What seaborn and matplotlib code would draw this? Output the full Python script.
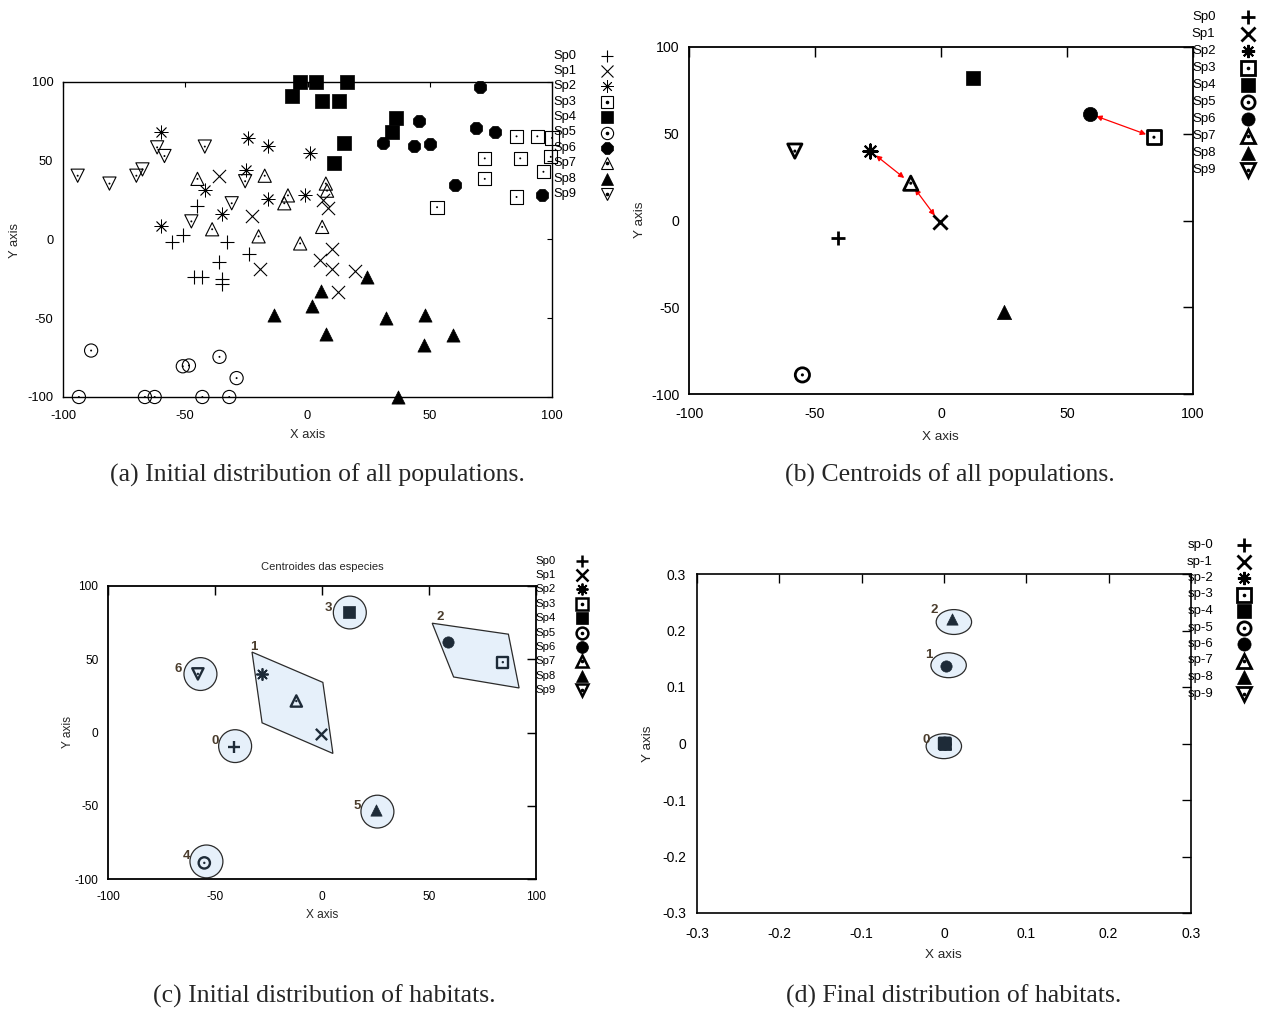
import numpy as np
import pandas as pd
import matplotlib
matplotlib.use("Agg")
import matplotlib.pyplot as plt
import seaborn as sns
from matplotlib.patches import Ellipse

# ---------------- data ----------------
species = ["Sp0", "Sp1", "Sp2", "Sp3", "Sp4", "Sp5", "Sp6", "Sp7", "Sp8", "Sp9"]
species_final = ["sp-0", "sp-1", "sp-2", "sp-3", "sp-4", "sp-5", "sp-6", "sp-7", "sp-8", "sp-9"]

# (a) initial individuals of every population
sp0_x = [-45, -51, -55.5, -33, -36, -24, -46.5, -43, -35, -35]
sp0_y = [21.5, 3, -1.5, -1.5, -14.5, -9.5, -23.5, -23.5, -25, -28]
sp1_x = [-36, -22.5, -19.5, 10, 5, 10, 19.5, 12.5, 6.5, 8.5]
sp1_y = [40.5, 15, -19, -6, -13, -19, -20, -33.5, 25, 20]
sp2_x = [-60, -24.5, -16, 1, -25, -42, -35, -60, -16, -1]
sp2_y = [68.5, 64.5, 59.5, 55, 44, 31.5, 16, 8.5, 26, 28]
sp3_x = [85.5, 94, 100, 72.5, 87, 99.5, 72.5, 96.5, 85.5, 53]
sp3_y = [65.5, 65.5, 64.5, 51.5, 51.5, 52.5, 38.5, 43, 27, 20.5]
sp4_x = [-6.5, -3, 3.5, 16, 6, 13, 36, 34.5, 15, 11]
sp4_y = [91, 100, 100, 100, 88, 88, 77, 68.5, 61, 48.5]
sp5_x = [-88.5, -51, -48.5, -36, -29, -93.5, -66.5, -62.5, -43, -32]
sp5_y = [-70.5, -80.5, -80, -74.5, -88, -100, -100, -100, -100, -100]
sp6_x = [70.5, 45.5, 69, 76.5, 31, 43.5, 50, 60.5, 96]
sp6_y = [97, 75, 70.5, 68.5, 61.5, 59.5, 60.5, 34.5, 28]
sp7_x = [-45, -17.5, -39, -20, -8, -9.5, -3, 6, 7.5, 8]
sp7_y = [38.5, 40.5, 6.5, 2, 28, 23, -2.5, 8, 35.5, 31]
sp8_x = [-13.5, 2, 5.5, 7.5, 24.5, 32, 48, 59.5, 47.5, 37]
sp8_y = [-48, -42, -32.5, -60, -24, -50, -48, -60.5, -67, -100]
sp9_x = [-94, -81, -70, -67.5, -61.5, -58.5, -42, -25.5, -31, -47.5]
sp9_y = [40.5, 35.5, 40.5, 44.5, 58.5, 53, 59, 37, 23, 11.5]

init_x = [sp0_x, sp1_x, sp2_x, sp3_x, sp4_x, sp5_x, sp6_x, sp7_x, sp8_x, sp9_x]
init_y = [sp0_y, sp1_y, sp2_y, sp3_y, sp4_y, sp5_y, sp6_y, sp7_y, sp8_y, sp9_y]

# (b) centroids of each population
cent_x = [-41, -0.5, -28, 84.5, 12.5, -55, 59, -12, 25, -58]
cent_y = [-10, -1, 40, 48, 82, -89, 61.5, 21.5, -53, 40]
arrow_pairs = [(2, 7), (7, 1), (6, 3)]

# (c) initial habitats
circ_ids = [0, 3, 4, 5, 6]
circ_x = [-40.6, 13, -54, 25.9, -56.8]
circ_y = [-9.3, 81.9, -88, -54, 39.9]
circ_w = 15.4
circ_h = 22.4
poly1_x = [-32.7, 0.4, 5.1, -28.0]
poly1_y = [54.9, 34.2, -14.3, 6.6]
poly2_x = [51.5, 87.1, 92.1, 61.5]
poly2_y = [74.6, 67.1, 30.4, 37.9]
hab_lab = ["0", "1", "2", "3", "4", "5", "6"]
hab_lab_x = [-50, -31.7, 55.3, 2.9, -63.5, 16.3, -67]
hab_lab_y = [-6, 58.3, 79.1, 84.8, -84.1, -50.1, 43.5]

# (d) final habitats
final_x = [0.001, 0.001, 0.001, 0.001, 0.001, 0.001, 0.002, 0.001, 0.01, 0.001]
final_y = [0.0, 0.0, 0.0, 0.0, 0.0, 0.0, 0.138, 0.0, 0.22, 0.0]
fin_ell_x = [-0.0002, 0.0056, 0.012]
fin_ell_y = [-0.0048, 0.1385, 0.215]
fin_ell_w = 0.043
fin_ell_h = 0.044
fin_lab = ["0", "1", "2"]
fin_lab_x = [-0.022, -0.018, -0.0125]
fin_lab_y = [0.006, 0.156, 0.237]

captions = ["(a) Initial distribution of all populations.",
            "(b) Centroids of all populations.",
            "(c) Initial distribution of habitats.",
            "(d) Final distribution of habitats."]

# ---------------- style ----------------
sns.set_style("white")
plt.rcParams["font.family"] = ["Liberation Sans", "DejaVu Sans"]
plt.rcParams["axes.unicode_minus"] = False

W, H = 1262, 1009
fig = plt.figure(figsize=(W / 100, H / 100), dpi=100)
fig.patch.set_facecolor("white")

MARKERS = ["+", "x", (8, 2, 0), "s", "s", "o", "o", "^", "^", "v"]
FILLED = [None, None, None, False, True, False, True, False, True, False]


def fx(px):
    return px / W


def fy(py):
    return 1 - py / H


def axes_px(l, t, r, b):
    return fig.add_axes([l / W, 1 - b / H, (r - l) / W, (b - t) / H])


def draw_species(ax, x, y, i, s, lw, color, dot_s=3, marker=None):
    m = marker if marker is not None else MARKERS[i]
    df = pd.DataFrame({"x": x, "y": y})
    common = dict(data=df, x="x", y="y", ax=ax, legend=False, clip_on=False, zorder=4)
    if FILLED[i] is None:
        w = lw * 0.75 if i == 2 else lw
        sns.scatterplot(marker=m, s=s, color=color, linewidth=w, **common)
    elif FILLED[i]:
        sns.scatterplot(marker=m, s=s, color=color, edgecolor=color, linewidth=0.5, **common)
    else:
        sns.scatterplot(marker=m, s=s, facecolor="none", edgecolor=color, linewidth=lw, **common)
        if dot_s:
            sns.scatterplot(marker="o", s=dot_s, color=color, edgecolor="none", **common)


def legend_px(ax, labels, xlab, xmark, y0, dy, fs, ms, lw, color, dot=True, marker6=None):
    for i, lab in enumerate(labels):
        yy = y0 + i * dy
        fig.text(fx(xlab), fy(yy), lab, ha="right", va="center", fontsize=fs, color="black")
        m = MARKERS[i]
        if i == 6 and marker6 is not None:
            m = marker6
        if FILLED[i] is None:
            kw = dict(color=color, mew=(lw * 0.75 if i == 2 else lw))
        elif FILLED[i]:
            kw = dict(color=color, mfc=color, mec=color, mew=0.5)
        else:
            kw = dict(color=color, mfc="none", mec=color, mew=lw)
        ax.plot([fx(xmark)], [fy(yy)], marker=m, ms=ms, ls="none",
                transform=fig.transFigure, clip_on=False, **kw)
        if FILLED[i] is False and dot:
            ax.plot([fx(xmark)], [fy(yy)], marker="o", ms=1.6, ls="none", color=color,
                    transform=fig.transFigure, clip_on=False)


def frame(ax, lim, ticks, tlen, spine_lw, xpad, ypad, fs, fmt=None):
    ax.set_xlim(*lim[0])
    ax.set_ylim(*lim[1])
    ax.set_xticks(ticks[0])
    ax.set_yticks(ticks[1])
    if fmt is not None:
        ax.set_xticklabels([fmt(v) for v in ticks[0]])
        ax.set_yticklabels([fmt(v) for v in ticks[1]])
    ax.tick_params(direction="in", top=True, right=True, length=tlen, width=spine_lw * 0.8,
                   labelsize=fs, colors="black")
    ax.tick_params(axis="x", pad=xpad)
    ax.tick_params(axis="y", pad=ypad)
    for sp in ax.spines.values():
        sp.set_visible(True)
        sp.set_linewidth(spine_lw)
        sp.set_color("black")
    ax.set_facecolor("white")
    ax.set_xlabel("")
    ax.set_ylabel("")


def axis_titles(xpos, ypos, fs):
    fig.text(fx(xpos[0]), fy(xpos[1]), "X axis", ha="center", va="center", fontsize=fs)
    fig.text(fx(ypos[0]), fy(ypos[1]), "Y axis", ha="center", va="center", fontsize=fs, rotation=90)


lim100 = ((-100, 100), (-100, 100))
ticks100 = ([-100, -50, 0, 50, 100], [-100, -50, 0, 50, 100])

# ---------------- (a) ----------------
axA = axes_px(63, 82, 552, 397)
for i in range(10):
    draw_species(axA, init_x[i], init_y[i], i, 90, 0.8, "black", dot_s=2,
                 marker=("8" if i == 6 else None))
frame(axA, lim100, ticks100, 3.6, 1.0, 9.5, 7, 9.3)
axis_titles((308, 435), (15, 240), 9.3)
legend_px(axA, species, 576, 606.5, 55.5, 15.4, 9.3, 8.8, 0.8, "black", marker6="8")

# ---------------- (b) ----------------
axB = axes_px(689, 47, 1193, 394)
for i in range(10):
    draw_species(axB, [cent_x[i]], [cent_y[i]], i, 105, 2.0, "black", dot_s=5)
for a, b in arrow_pairs:
    axB.annotate("", xy=(cent_x[b], cent_y[b]), xytext=(cent_x[a], cent_y[a]),
                 arrowprops=dict(arrowstyle="<|-|>", color="red", lw=0.9,
                                 shrinkA=5, shrinkB=6, mutation_scale=8))
frame(axB, lim100, ticks100, 7, 1.3, 9.5, 7, 10.2)
axis_titles((940, 437), (640, 220), 9.7)
legend_px(axB, species, 1215.5, 1247.5, 16.6, 17.0, 9.5, 9.5, 2.0, "black")

# ---------------- (c) ----------------
navy = "#1e2b38"
fill_c = "#e6f0fa"
axC = axes_px(108, 586, 536, 879)
for k in range(len(circ_ids)):
    axC.add_patch(Ellipse((circ_x[k], circ_y[k]), circ_w, circ_h, facecolor=fill_c,
                          edgecolor="#2b2b2b", lw=0.9, zorder=2))
axC.fill(poly1_x, poly1_y, facecolor=fill_c, edgecolor="#2b2b2b", lw=0.9, zorder=2)
axC.fill(poly2_x, poly2_y, facecolor=fill_c, edgecolor="#2b2b2b", lw=0.9, zorder=2)
for i in range(10):
    draw_species(axC, [cent_x[i]], [cent_y[i]], i, 66, 1.7, navy, dot_s=3)
for k, lab in enumerate(hab_lab):
    axC.text(hab_lab_x[k], hab_lab_y[k], lab, ha="center", va="center", fontsize=9.5,
             fontweight="bold", color="#4a3c2c", zorder=5)
frame(axC, lim100, ticks100, 6.5, 1.3, 8.5, 7, 8.6)
axis_titles((322, 915), (68, 732), 8.6)
fig.text(fx(322), fy(567), "Centroides das especies", ha="center", va="center", fontsize=8)
legend_px(axC, species, 556, 582, 560.6, 14.4, 8.2, 8.5, 1.8, "black")

# ---------------- (d) ----------------
axD = axes_px(697, 574, 1191, 913)
for k in range(len(fin_ell_x)):
    axD.add_patch(Ellipse((fin_ell_x[k], fin_ell_y[k]), fin_ell_w, fin_ell_h, facecolor=fill_c,
                          edgecolor="#2b2b2b", lw=0.9, zorder=2))
order = [0, 1, 2, 3, 5, 7, 9, 4, 6, 8]
for i in order:
    draw_species(axD, [final_x[i]], [final_y[i]], i, 66, 1.7, navy, dot_s=3)
for k, lab in enumerate(fin_lab):
    axD.text(fin_lab_x[k], fin_lab_y[k], lab, ha="center", va="center", fontsize=9.5,
             fontweight="bold", color="#4a3c2c", zorder=5)
tD = [-0.3, -0.2, -0.1, 0, 0.1, 0.2, 0.3]
frame(axD, ((-0.3, 0.3), (-0.3, 0.3)), (tD, tD), 6.5, 1.2, 10, 8, 10,
      fmt=lambda v: "0" if abs(v) < 1e-9 else f"{v:.1f}")
axis_titles((943, 955), (648, 744), 9.7)
legend_px(axD, species_final, 1213, 1244, 545, 16.5, 9.5, 9.5, 2.0, "black")

# ---------------- captions ----------------
cap_pos = [(317, 475), (950, 475), (324, 996), (954, 996)]
for cap, (cx, cy) in zip(captions, cap_pos):
    fig.text(fx(cx), fy(cy), cap, ha="center", va="center", fontsize=18.5,
             family=["Liberation Serif", "DejaVu Serif"])

fig.savefig("out.png", dpi=100, facecolor="white")
